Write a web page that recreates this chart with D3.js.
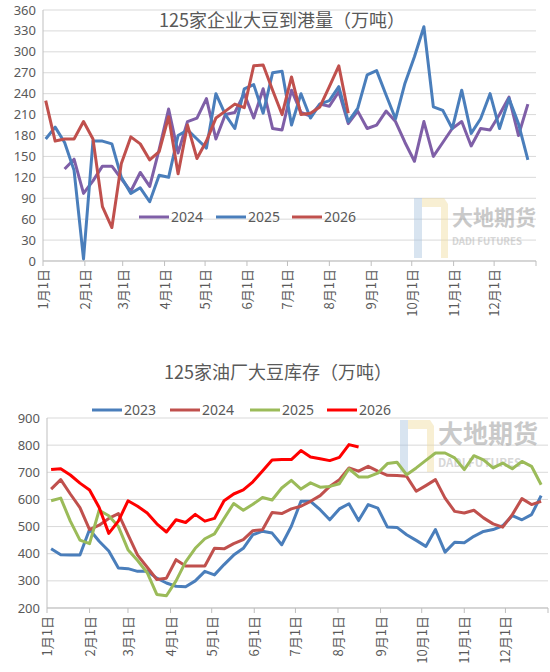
<!DOCTYPE html>
<html><head><meta charset="utf-8">
<script src="https://cdn.jsdelivr.net/npm/d3@7"></script>
<style>body{margin:0;background:#fff}svg{display:block;font-family:"Noto Sans CJK SC","Noto Sans",sans-serif}</style>
</head><body><svg id="c" width="550" height="672"></svg>
<script>
const monthLabels=["1月1日","2月1日","3月1日","4月1日","5月1日","6月1日","7月1日","8月1日","9月1日","10月1日","11月1日","12月1日"];
const monthStarts=[0,31,59,90,120,151,181,212,243,273,304,334];
// Top chart: weekly arrivals (start week index, values)
const arr2024Start=2;
const arr2024=[132,146,97,115,136,136,118,100,127,107,160,218,155,200,205,233,175,210,213,240,205,247,190,188,245,213,208,225,222,243,197,215,190,195,215,200,170,143,200,150,170,190,200,165,190,188,210,235,180,225];
const arr2025=[175,192,170,130,3,172,172,168,120,97,105,85,123,120,180,188,175,162,240,210,190,247,253,212,270,272,195,240,205,225,230,250,200,219,267,273,238,204,255,293,336,221,216,190,245,183,204,240,190,233,197,145];
const arr2026=[230,172,175,175,200,175,78,48,140,178,168,145,157,207,125,195,147,172,205,215,225,220,280,281,245,210,264,210,212,221,250,280,212];
const topTicks=d3.range(0,361,30);
// Bottom chart: weekly stocks
const st2023=[418,396,395,395,489,446,410,347,345,335,335,310,292,280,278,300,335,322,360,395,420,470,483,476,433,501,593,593,562,525,565,584,522,581,568,498,497,470,449,427,489,406,442,440,464,482,489,503,540,525,544,614];
const st2024=[638,673,620,570,489,505,530,548,470,395,350,305,310,378,355,355,355,420,418,437,452,485,488,552,548,565,575,593,614,648,673,716,704,722,704,689,688,685,630,651,673,605,556,550,560,532,510,498,544,603,581,593];
const st2025=[595,605,520,450,437,560,540,500,415,375,330,250,245,300,370,420,455,473,530,585,560,582,607,598,642,670,638,661,645,648,658,713,683,683,697,732,737,691,716,744,771,771,753,710,761,746,716,734,713,740,722,654];
const st2026=[710,713,690,660,635,570,475,520,595,575,550,510,480,525,515,545,520,530,595,620,635,665,705,745,747,747,780,756,750,743,755,802,793];
const botTicks=d3.range(200,901,100);

const svg=d3.select("#c");
const gray="#595959";

function chart(o){
  const x=d3.scaleLinear().domain([0,365]).range([o.l,o.r]);
  const y=d3.scaleLinear().domain(o.dom).range([o.b,o.t]);
  const g=svg.append("g");
  g.selectAll("line.grid").data(o.ticks).join("line").attr("x1",o.l).attr("x2",o.r)
   .attr("y1",d=>y(d)).attr("y2",d=>y(d)).attr("stroke","#d9d9d9").attr("stroke-width",1);
  g.selectAll("text.yt").data(o.ticks).join("text").attr("x",o.l-7).attr("y",d=>y(d)+4.5)
   .attr("text-anchor","end").attr("fill",gray).attr("font-size",13).attr("font-family","Noto Sans, sans-serif").text(d=>d);
  // watermark
  const w=g.append("g").attr("transform",`translate(${o.wm[0]},${o.wm[1]})`).attr("opacity",0.45);
  w.append("rect").attr("x",0).attr("y",0).attr("width",8).attr("height",o.wh).attr("fill","#a9c4e0");
  w.append("path").attr("d",`M8,0 L30,0 L34,6 L34,${o.wh} L27,${o.wh} L27,9 L8,9 Z`).attr("fill","#f0dca0");
  w.append("text").attr("x",38).attr("y",o.wh*0.45).attr("font-size",o.wf).attr("font-weight","bold").attr("fill","#8a8a8a").text("大地期货");
  w.append("text").attr("x",38).attr("y",o.wh*0.45+o.wf*0.95).attr("font-size",o.wf*0.46).attr("font-weight","bold").attr("fill","#a8a8a8").text("DADI FUTURES");
  g.append("line").attr("x1",o.l).attr("x2",o.l).attr("y1",o.t).attr("y2",o.b).attr("stroke","#bfbfbf");
  g.append("line").attr("x1",o.l).attr("x2",o.r).attr("y1",o.b).attr("y2",o.b).attr("stroke","#bfbfbf");
  monthStarts.concat([365]).forEach(d=>g.append("line").attr("x1",x(d)).attr("x2",x(d)).attr("y1",o.b).attr("y2",o.b+5).attr("stroke","#bfbfbf"));
  monthStarts.forEach((d,i)=>g.append("text").attr("transform",`translate(${x(d)+5},${o.b+8}) rotate(-90)`)
   .attr("text-anchor","end").attr("fill",gray).attr("font-size",13).text(monthLabels[i]));
  g.append("text").attr("x",o.title[0]).attr("y",o.title[1]).attr("text-anchor","middle").attr("fill",gray).attr("font-size",18).text(o.titleText);
  const line=d3.line().x(d=>x(d[0])).y(d=>y(d[1]));
  o.series.forEach(s=>{
    const pts=s.v.map((v,i)=>[o.off+7*(i+s.s),v]);
    g.append("path").attr("d",line(pts)).attr("fill","none").attr("stroke",s.c).attr("stroke-width",3).attr("stroke-linejoin","round");
    g.append("line").attr("x1",s.lx).attr("x2",s.lx+30).attr("y1",o.ly).attr("y2",o.ly).attr("stroke",s.c).attr("stroke-width",3);
    g.append("text").attr("x",s.lx+32).attr("y",o.ly+5).attr("fill",gray).attr("font-size",14).attr("font-family","Noto Sans, sans-serif").text(s.name);
  });
}
chart({l:43,r:536,t:10,b:261,dom:[0,360],ticks:topTicks,off:2,ly:217,wm:[414,198],wh:60,wf:21,
  title:[282,27],titleText:"125家企业大豆到港量（万吨）",
  series:[{name:"2024",v:arr2024,s:arr2024Start,c:"#7f5fa7",lx:139},
          {name:"2025",v:arr2025,s:0,c:"#4a7ebb",lx:216},
          {name:"2026",v:arr2026,s:0,c:"#c0504d",lx:292}]});
chart({l:47,r:548,t:418,b:608,dom:[200,900],ticks:botTicks,off:3,ly:410,wm:[400,420],wh:52,wf:25,
  title:[278,379],titleText:"125家油厂大豆库存（万吨）",
  series:[{name:"2023",v:st2023,s:0,c:"#4a7ebb",lx:92},
          {name:"2024",v:st2024,s:0,c:"#c0504d",lx:170},
          {name:"2025",v:st2025,s:0,c:"#9bbb59",lx:250},
          {name:"2026",v:st2026,s:0,c:"#ff0000",lx:327}]});
</script></body></html>
